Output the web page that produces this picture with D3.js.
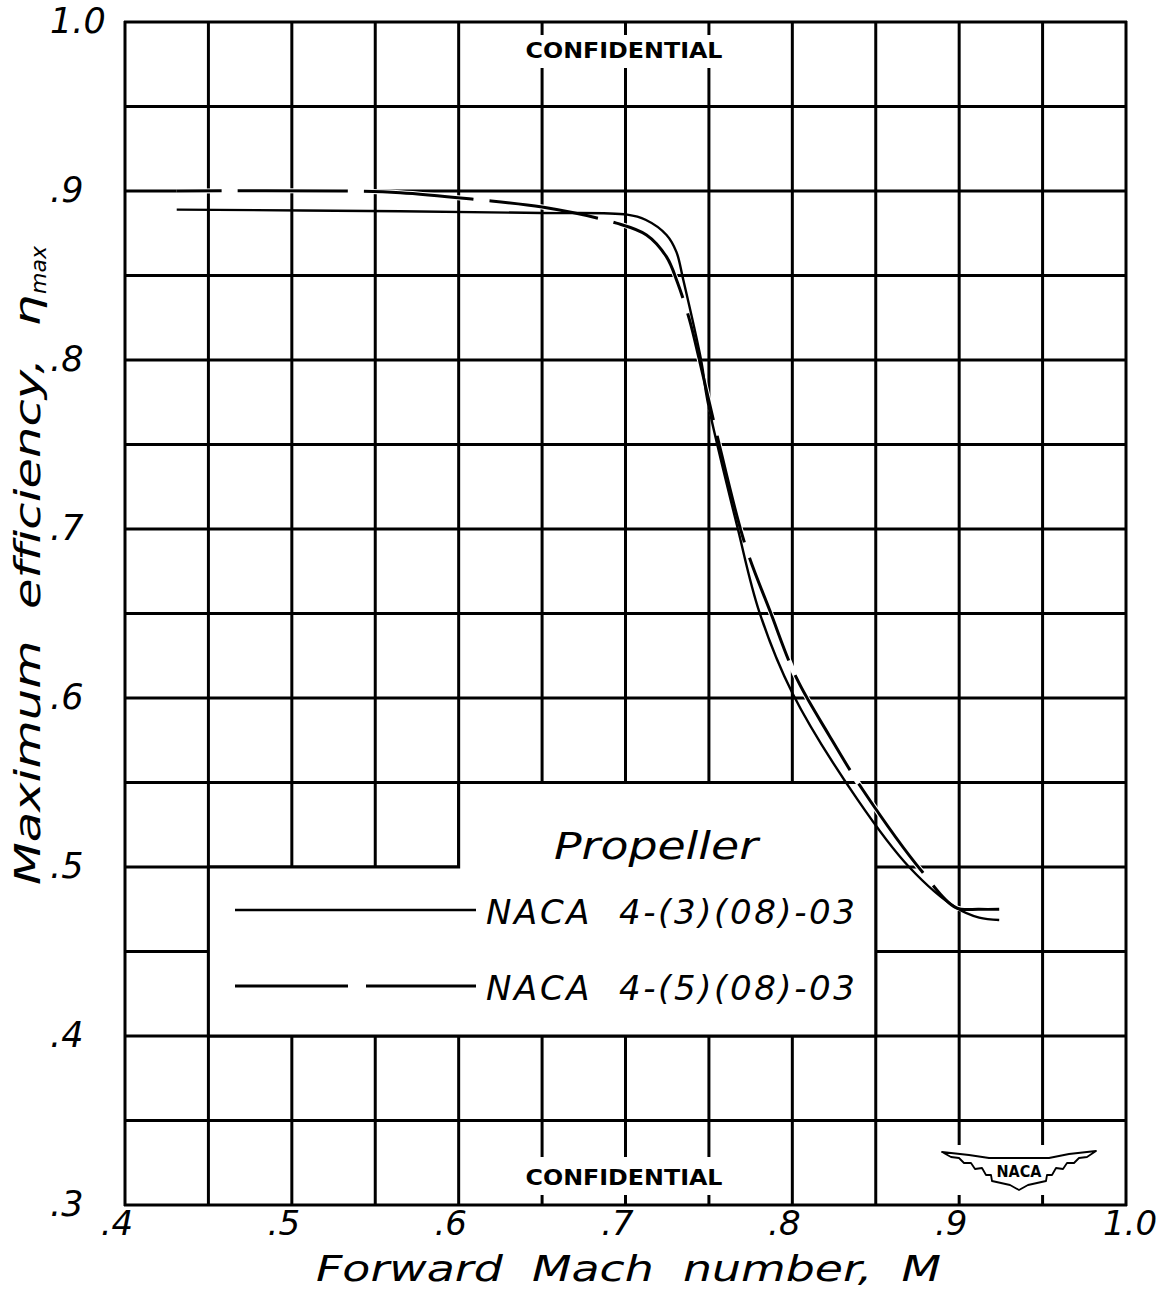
<!DOCTYPE html>
<html>
<head>
<meta charset="utf-8">
<script src="https://cdn.jsdelivr.net/npm/d3@7/dist/d3.min.js"></script>
<style>
body { margin: 0; background: #fff; }
text { font-variant-ligatures: none; }
</style>
</head>
<body>
<div id="chart"></div>
<script>
// grid and tick values
var gridMach = [0.40, 0.45, 0.50, 0.55, 0.60, 0.65, 0.70, 0.75, 0.80, 0.85, 0.90, 0.95, 1.00];
var gridEta = [0.30, 0.35, 0.40, 0.45, 0.50, 0.55, 0.60, 0.65, 0.70, 0.75, 0.80, 0.85, 0.90, 0.95, 1.00];
var machTicks = [0.4, 0.5, 0.6, 0.7, 0.8, 0.9, 1.0];
var machLabels = [".4", ".5", ".6", ".7", ".8", ".9", "1.0"];
var etaTicks = [0.3, 0.4, 0.5, 0.6, 0.7, 0.8, 0.9, 1.0];
var etaLabels = [".3", ".4", ".5", ".6", ".7", ".8", ".9", "1.0"];

// NACA 4-(3)(08)-03, solid
var machSolid = [0.431, 0.565, 0.650, 0.701, 0.712, 0.7246, 0.7305, 0.7345, 0.7455, 0.7491, 0.7671, 0.7802, 0.800, 0.839, 0.870, 0.898, 0.912, 0.924];
var etaSolid  = [0.889, 0.888, 0.887, 0.886, 0.883, 0.874, 0.864, 0.848, 0.799, 0.776, 0.701, 0.651, 0.603, 0.540, 0.500, 0.476, 0.470, 0.4686];

// NACA 4-(5)(08)-03, dashed
var machDashed = [0.431, 0.530, 0.565, 0.610, 0.650, 0.6946, 0.7126, 0.7246, 0.7311, 0.7383, 0.7443, 0.7545, 0.7713, 0.7868, 0.8024, 0.822, 0.842, 0.878, 0.898, 0.912, 0.924];
var etaDashed  = [0.900, 0.900, 0.899, 0.895, 0.8905, 0.881, 0.874, 0.861, 0.846, 0.824, 0.800, 0.757, 0.692, 0.651, 0.612, 0.578, 0.546, 0.497, 0.476, 0.475, 0.475];

var seriesNames = ["NACA  4-(3)(08)-03", "NACA  4-(5)(08)-03"];

var W = 1163, H = 1289;
var hand = "'DejaVu Sans', 'Liberation Sans', sans-serif";
var stamp = "'DejaVu Sans Condensed', 'Liberation Sans Narrow', 'DejaVu Sans', sans-serif";

var svg = d3.select("#chart")
        .append("svg")
        .attr("width", W)
        .attr("height", H);

svg.append("rect")
        .attr("width", W)
        .attr("height", H)
        .attr("fill", "#fff");

var x = d3.scaleLinear().domain([0.4, 1.0]).range([125, 1126]);
var y = d3.scaleLinear().domain([0.3, 1.0]).range([1205, 22]);

// grid
var grid = svg.append("g")
        .attr("stroke", "#000")
        .attr("stroke-width", 3);

grid.selectAll("line.v")
        .data(gridMach)
        .enter().append("line")
        .attr("class", "v")
        .attr("x1", function (d) { return x(d); })
        .attr("x2", function (d) { return x(d); })
        .attr("y1", y(1.0) - 1)
        .attr("y2", y(0.3) + 1);

grid.selectAll("line.h")
        .data(gridEta)
        .enter().append("line")
        .attr("class", "h")
        .attr("y1", function (d) { return y(d); })
        .attr("y2", function (d) { return y(d); })
        .attr("x1", x(0.4) - 1)
        .attr("x2", x(1.0) + 1);

// legend box knocked out of the grid
var boxPts = [[0.45, 0.40], [0.45, 0.50], [0.60, 0.50], [0.60, 0.55], [0.85, 0.55], [0.85, 0.40]];
svg.append("polygon")
        .attr("points", boxPts.map(function (p) { return x(p[0]) + "," + y(p[1]); }).join(" "))
        .attr("fill", "#fff")
        .attr("stroke", "#000")
        .attr("stroke-width", 3);

// white patches behind the stamps
svg.append("rect").attr("x", 519).attr("y", 35).attr("width", 210).attr("height", 33).attr("fill", "#fff");
svg.append("rect").attr("x", 519).attr("y", 1157).attr("width", 210).attr("height", 38).attr("fill", "#fff");
svg.append("rect").attr("x", 936).attr("y", 1145).attr("width", 166).attr("height", 50).attr("fill", "#fff");

// curves
var line = d3.line()
        .x(function (d) { return x(d[0]); })
        .y(function (d) { return y(d[1]); })
        .curve(d3.curveCatmullRom.alpha(0.5));

var solidPts = machSolid.map(function (m, i) { return [m, etaSolid[i]]; });
var dashedPts = machDashed.map(function (m, i) { return [m, etaDashed[i]]; });

svg.append("path")
        .attr("d", line(dashedPts))
        .attr("fill", "none")
        .attr("stroke", "#fff")
        .attr("stroke-width", 5);

svg.append("path")
        .attr("d", line(solidPts))
        .attr("fill", "none")
        .attr("stroke", "#000")
        .attr("stroke-width", 2.4);

svg.append("path")
        .attr("d", line(dashedPts))
        .attr("fill", "none")
        .attr("stroke", "#000")
        .attr("stroke-width", 3)
        .attr("stroke-dasharray", "110,16")
        .attr("stroke-dashoffset", 65);

// tick labels
svg.selectAll("text.xt")
        .data(machTicks)
        .enter().append("text")
        .attr("class", "xt")
        .attr("x", function (d, i) { return x(d) + (machLabels[i].length > 2 ? 4 : -8); })
        .attr("y", 1235)
        .attr("text-anchor", "middle")
        .attr("font-family", hand)
        .attr("font-style", "italic")
        .attr("font-size", "34px")
        .text(function (d, i) { return machLabels[i]; });

svg.selectAll("text.yt")
        .data(etaTicks)
        .enter().append("text")
        .attr("class", "yt")
        .attr("x", 50)
        .attr("y", function (d) { return y(d) + 11; })
        .attr("font-family", hand)
        .attr("font-style", "italic")
        .attr("font-size", "35px")
        .text(function (d, i) { return etaLabels[i]; });

// axis titles
svg.append("text")
        .attr("x", 316)
        .attr("y", 1281)
        .attr("font-family", hand)
        .attr("font-style", "italic")
        .attr("font-size", "35px")
        .attr("textLength", 625)
        .attr("lengthAdjust", "spacingAndGlyphs")
        .attr("xml:space", "preserve")
        .text("Forward  Mach  number,  M");

var yt = svg.append("text")
        .attr("transform", "translate(40,885) rotate(-90)")
        .attr("font-family", hand)
        .attr("font-style", "italic")
        .attr("font-size", "36px")
        .attr("xml:space", "preserve");
yt.append("tspan")
        .attr("textLength", 590)
        .attr("lengthAdjust", "spacingAndGlyphs")
        .text("Maximum  efficiency,  \u03b7");
yt.append("tspan")
        .attr("font-size", "22px")
        .attr("dy", 6)
        .attr("dx", 1)
        .text("max");

// stamps
svg.append("text")
        .attr("x", 624)
        .attr("y", 58)
        .attr("text-anchor", "middle")
        .attr("font-family", stamp)
        .attr("font-weight", "bold")
        .attr("font-size", "22px")
        .attr("textLength", 197)
        .attr("lengthAdjust", "spacingAndGlyphs")
        .text("CONFIDENTIAL");

svg.append("text")
        .attr("x", 624)
        .attr("y", 1185)
        .attr("text-anchor", "middle")
        .attr("font-family", stamp)
        .attr("font-weight", "bold")
        .attr("font-size", "22px")
        .attr("textLength", 197)
        .attr("lengthAdjust", "spacingAndGlyphs")
        .text("CONFIDENTIAL");

// NACA wing logo
var cx = 1019, ty = 1152;
var wing = [[-77, 0], [-50, 3], [-30, 6], [30, 6], [50, 2], [77, -1],
            [68, 5], [60, 6], [55, 11], [48, 11], [44, 17], [37, 16], [33, 23], [28, 23], [27, 29],
            [18, 31], [9, 33], [0, 38],
            [-9, 33], [-18, 31], [-27, 29], [-28, 23], [-33, 23], [-37, 16], [-44, 17], [-48, 11], [-55, 11], [-60, 6], [-68, 5]];
svg.append("polygon")
        .attr("points", wing.map(function (p) { return (cx + p[0]) + "," + (ty + p[1]); }).join(" "))
        .attr("fill", "#fff")
        .attr("stroke", "#000")
        .attr("stroke-width", 1.8)
        .attr("stroke-linejoin", "round");

svg.append("text")
        .attr("x", cx)
        .attr("y", 1177)
        .attr("text-anchor", "middle")
        .attr("font-family", stamp)
        .attr("font-weight", "bold")
        .attr("font-size", "16px")
        .text("NACA");

// legend
svg.append("text")
        .attr("x", 554)
        .attr("y", 859)
        .attr("font-family", hand)
        .attr("font-style", "italic")
        .attr("font-size", "37px")
        .attr("textLength", 204)
        .attr("lengthAdjust", "spacingAndGlyphs")
        .text("Propeller");

var legendY = [910, 986];
var legendDash = [null, "113,18"];

legendY.forEach(function (ly, i) {
    svg.append("line")
            .attr("x1", 235)
            .attr("x2", 476)
            .attr("y1", ly)
            .attr("y2", ly)
            .attr("stroke", "#000")
            .attr("stroke-width", i ? 3 : 2.4)
            .attr("stroke-dasharray", legendDash[i]);
    svg.append("text")
            .attr("x", 486)
            .attr("y", ly + 14)
            .attr("font-family", hand)
            .attr("font-style", "italic")
            .attr("font-size", "34px")
            .attr("textLength", 369)
            .attr("lengthAdjust", "spacing")
            .attr("xml:space", "preserve")
            .text(seriesNames[i]);
});
</script>
</body>
</html>
